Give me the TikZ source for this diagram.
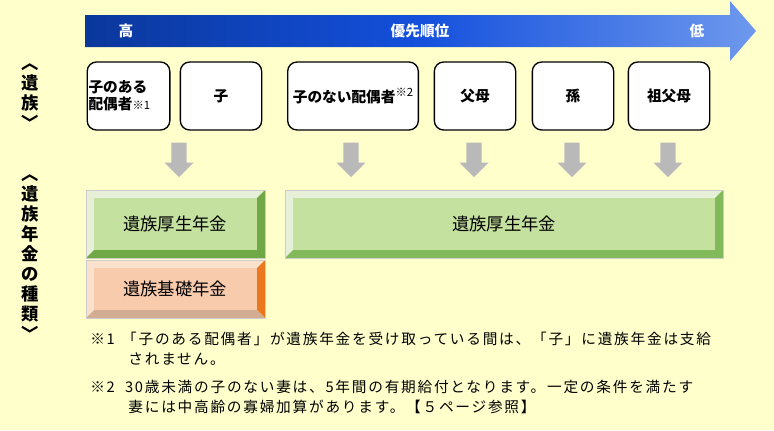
\documentclass[tikz,border=0pt]{standalone}
\usepackage{fontspec}
\setmainfont{Noto Sans CJK JP}
\newfontfamily\notefont[LetterSpace=12]{Noto Sans CJK JP}
\usetikzlibrary{shapes.arrows}
\definecolor{bg}{RGB}{255,255,204}
\definecolor{gface}{RGB}{197,225,160}
\definecolor{glight}{RGB}{230,240,216}
\definecolor{gdark}{RGB}{112,168,70}
\definecolor{gbot}{RGB}{130,185,90}
\definecolor{oface}{RGB}{248,203,173}
\definecolor{olight}{RGB}{250,225,205}
\definecolor{odark}{RGB}{235,120,30}
\definecolor{navy}{RGB}{0,30,90}
\definecolor{mblue}{RGB}{20,80,220}
\definecolor{lblue}{RGB}{200,225,255}
\pgfdeclarehorizontalshading{prio}{100bp}{color(0bp)=(navy); color(50bp)=(mblue); color(100bp)=(lblue)}
\tikzset{
 person/.style={draw=black,line width=1pt,rounded corners=7pt,fill=white,font=\bfseries\fontsize{11}{12.5}\selectfont,align=center,inner sep=0pt},
 down/.style={single arrow,draw=none,fill=gray!55,shape border rotate=270,minimum width=22pt,single arrow head extend=2pt,single arrow tip angle=90,minimum height=26pt,inner sep=2pt},
 head/.style={text=white,font=\bfseries\fontsize{11}{12}\selectfont},
 vlab/.style={font=\bfseries\fontsize{13}{15}\selectfont,align=center,inner sep=0pt},
 note/.style={anchor=north west,align=left,font=\notefont\fontsize{11}{15}\selectfont,inner sep=0pt},
 ptext/.style={font=\fontsize{13}{14}\selectfont},
}
\newcommand{\bevel}[6]{% x1 y1 x2 y2 face dark
 \fill[glight] (#1,#2) rectangle (#3,#4);
 \fill[#6] (#3,#2) -- (#3,#4) -- (#1,#4) -- ({#1+8},{#4-8}) -- ({#3-8},{#4-8}) -- ({#3-8},{#2+8}) -- cycle;
 \fill[#5] ({#1+8},{#2+8}) rectangle ({#3-8},{#4-8});
 \draw[gray!40,line width=0.6pt] (#1,#2) rectangle (#3,#4);
}
\begin{document}
\begin{tikzpicture}[x=0.75pt,y=-0.75pt]
\useasboundingbox (0,0) rectangle (774,430);
\fill[bg] (0,0) rectangle (774,430);
% priority arrow
\shade[shading=prio] (85,15) -- (730,15) -- (730,1) -- (756,31) -- (730,61) -- (730,47) -- (85,47) -- cycle;
\node[head] (hi) at (126,31) {高};
\node[head] (mid) at (420,31) {優先順位};
\node[head] (lo) at (697,31) {低};
% left labels
\node[vlab] (l1) at (30,97) {︿\\遺\\族\\﹀};
\node[vlab] (l2) at (30,258) {︿\\遺\\族\\年\\金\\の\\種\\類\\﹀};
% persons
\node[person,minimum width=62pt,minimum height=51pt] (p1) at (128.5,96) {\makebox[60pt][l]{子のある}\\\makebox[60pt][l]{配偶者\fontsize{8.5}{9}\selectfont\mdseries ※1}};
\node[person,minimum width=61pt,minimum height=51pt] (p2) at (221,96) {子};
\node[person,minimum width=98pt,minimum height=51pt] (p3) at (353,96) {子のない配偶者\raisebox{4pt}{\fontsize{8.5}{9}\selectfont\mdseries ※2}};
\node[person,minimum width=61pt,minimum height=51pt] (p4) at (475,96) {父母};
\node[person,minimum width=61pt,minimum height=51pt] (p5) at (573,96) {孫};
\node[person,minimum width=61pt,minimum height=51pt] (p6) at (669,96) {祖父母};
% down arrows
\node[down] (a1) at (179,156) {};
\node[down] (a2) at (351,156) {};
\node[down] (a3) at (474,156) {};
\node[down] (a4) at (572,156) {};
\node[down] (a5) at (668,156) {};
% pension boxes
\bevel{86}{190}{265}{258}{gface}{gdark}
\fill[olight] (86,260) -- (265,260) -- (257,268) -- (94,268) -- cycle;
\fill[olight] (86,260) -- (94,268) -- (94,310) -- (86,318) -- cycle;
\fill[odark] (265,260) -- (265,318) -- (257,310) -- (257,268) -- cycle;
\fill[oface!85!black] (86,318) -- (94,310) -- (257,310) -- (265,318) -- cycle;
\fill[oface] (94,268) rectangle (257,310);
\draw[gray!40,line width=0.6pt] (86,260) rectangle (265,318);
\bevel{285}{190}{723}{258}{gface}{gbot}
\node[ptext] (t1) at (175,224) {遺族厚生年金};
\node[ptext] (t2) at (175,289) {遺族基礎年金};
\node[ptext] (t3) at (504,224) {遺族厚生年金};
% notes
\node[note] (n1) at (90,332) {※1\hspace{0.5em}「子のある配偶者」が遺族年金を受け取っている間は、「子」に遺族年金は支給\\\hspace{2.6em}されません。};
\node[note] (n2) at (90,380) {※2\hspace{0.7em}30歳未満の子のない妻は、5年間の有期給付となります。一定の条件を満たす\\\hspace{2.6em}妻には中高齢の寡婦加算があります。【５ページ参照】};
\end{tikzpicture}
\end{document}
